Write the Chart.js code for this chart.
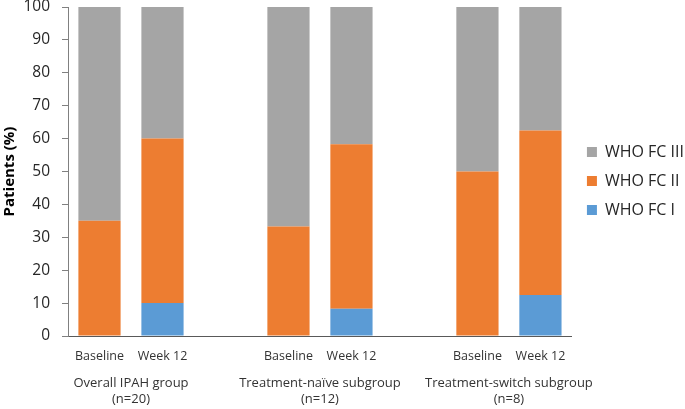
<!DOCTYPE html>
<html>
<head>
<meta charset="utf-8">
<script src="https://cdn.jsdelivr.net/npm/chart.js@4"></script>
<style>
  html, body { margin: 0; padding: 0; background: #fff; }
  #wrap { width: 685px; height: 409px; }
</style>
</head>
<body>
<div id="wrap"><canvas id="fcChart"></canvas></div>
<script>
// empty slots ('') separate the three groups
const timepoints = ['Baseline', 'Week 12', '', 'Baseline', 'Week 12', '', 'Baseline', 'Week 12'];
const groupLabels = [
    ['Overall IPAH group', '(n=20)'],
    ['Treatment-na\u00efve subgroup', '(n=12)'],
    ['Treatment-switch subgroup', '(n=8)']
];
const groupStart = [0, 3, 6]; // first category index of each group
const fcI = [0, 10, null, 0, 8.3, null, 0, 12.5];
const fcII = [35, 50, null, 33.3, 50, null, 50, 50];
const fcIII = [65, 40, null, 66.7, 41.7, null, 50, 37.5];
const yTicks = [0, 10, 20, 30, 40, 50, 60, 70, 80, 90, 100];

const fontFamily = '"Open Sans", "Noto Sans", sans-serif';

// group captions under the time point labels
const groupCaptions = {
    id: 'groupCaptions',
    afterDraw(chart) {
        const x = chart.scales.x;
        const c = chart.ctx;
        c.save();
        c.font = '13px ' + fontFamily;
        c.fillStyle = '#333';
        c.textAlign = 'center';
        c.textBaseline = 'middle';
        groupLabels.forEach((lines, i) => {
            const cx = (x.getPixelForValue(groupStart[i]) + x.getPixelForValue(groupStart[i] + 1)) / 2;
            lines.forEach((t, j) => c.fillText(t, cx, x.bottom - 25.5 + j * 16));
        });
        c.restore();
    }
};

// leave a wider gap between plot and legend
const legendGap = {
    id: 'legendGap',
    afterLayout(chart) {
        chart.legend.left += 2;
        chart.legend.right += 2;
    }
};

const ctx = document.getElementById('fcChart').getContext('2d');
const fcChart = new Chart(ctx, {
    type: 'bar',
    data: {
        labels: timepoints,
        datasets: [
            { label: 'WHO FC I', data: fcI, backgroundColor: '#5B9BD5' },
            { label: 'WHO FC II', data: fcII, backgroundColor: '#ED7D31' },
            { label: 'WHO FC III', data: fcIII, backgroundColor: '#A5A5A5' }
        ]
    },
    options: {
        responsive: true,
        maintainAspectRatio: false,
        animation: false,
        datasets: {
            bar: { barPercentage: 0.67, categoryPercentage: 1 }
        },
        layout: { padding: { top: 0, right: -7 } },
        plugins: {
            tooltip: { enabled: false },
            legend: {
                position: 'right',
                fullSize: false,
                reverse: true,
                title: { display: true, text: '', padding: { top: 0, bottom: 4.6 } },
                labels: {
                    boxWidth: 10,
                    boxHeight: 10,
                    padding: 13,
                    color: '#262626',
                    font: { family: fontFamily, size: 16 }
                }
            }
        },
        scales: {
            x: {
                stacked: true,
                grid: { display: false, drawTicks: false },
                border: { display: true, color: '#595959', width: 1 },
                ticks: {
                    color: '#333',
                    padding: 12.5,
                    font: { family: fontFamily, size: 12.5 }
                },
                afterFit(scale) { scale.height = 73; }
            },
            y: {
                stacked: true,
                min: 0,
                max: 100,
                afterBuildTicks(scale) { scale.ticks = yTicks.map(v => ({ value: v })); },
                grid: { display: true, drawOnChartArea: false, drawTicks: true, tickLength: 6, color: '#808080' },
                border: { display: true, color: '#808080' },
                ticks: {
                    color: '#262626',
                    padding: 12,
                    font: { family: fontFamily, size: 15.5 }
                },
                title: {
                    display: true,
                    text: 'Patients (%)',
                    color: '#000',
                    padding: { top: 1, bottom: 0 },
                    font: { family: fontFamily, size: 15, weight: 'bold' }
                },
                afterFit(scale) {
                    scale.width = 68;
                    scale.paddingTop = 7;
                }
            }
        }
    },
    plugins: [groupCaptions, legendGap]
});
</script>
</body>
</html>
